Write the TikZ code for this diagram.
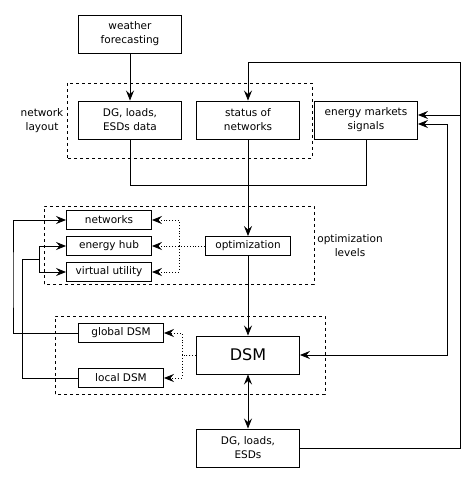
\documentclass[tikz,border=0pt]{standalone}
\usepackage{fontspec}
\setmainfont{DejaVu Sans}
\usetikzlibrary{arrows.meta}
\tikzstyle{bx}=[rectangle,draw=black,line width=0.9pt,align=center,
  minimum width=103pt,minimum height=38pt,inner sep=2pt,
  font=\fontsize{10.5}{14}\selectfont]
\tikzstyle{sbx}=[bx,minimum width=85pt,minimum height=19pt]
\tikzstyle{dsm}=[bx,font=\fontsize{16}{18}\selectfont]
\tikzstyle{grp}=[draw=black,dashed,line width=0.8pt]
\tikzstyle{lbl}=[align=center,font=\fontsize{10.5}{14}\selectfont]
\tikzstyle{none}=[]

\begin{document}
\begin{tikzpicture}[x=20pt, y=20pt, line width=0.9pt,
    >={Stealth[length=10pt,width=8pt,inset=3.5pt]}]
            \useasboundingbox (0, 0) rectangle (23.7, 24.15);
            \draw [style=grp] (3.35, 16.25) rectangle (15.6, 20);
            \draw [style=grp] (2.2, 9.95) rectangle (15.7, 13.85);
            \draw [style=grp] (2.75, 4.45) rectangle (16.25, 8.35);
            \node [style=bx] (0) at (6.5, 22.45) {weather\\forecasting};
            \node [style=bx] (1) at (6.5, 18.15) {DG, loads,\\ESDs data};
            \node [style=bx] (2) at (12.4, 18.15) {status of\\networks};
            \node [style=bx] (3) at (18.3, 18.15) {energy markets\\signals};
            \node [style=sbx] (4) at (5.45, 13.15) {networks};
            \node [style=sbx] (5) at (5.45, 11.85) {energy hub};
            \node [style=sbx] (6) at (5.45, 10.55) {virtual utility};
            \node [style=sbx] (7) at (12.4, 11.85) {optimization};
            \node [style=sbx] (8) at (6.05, 7.5) {global DSM};
            \node [style=sbx] (9) at (6.05, 5.25) {local DSM};
            \node [style=dsm] (10) at (12.4, 6.4) {DSM};
            \node [style=bx] (11) at (12.4, 1.75) {DG, loads,\\ESDs};
            \node [style=lbl] (12) at (2.1, 18.1) {network\\layout};
            \node [style=lbl] (13) at (17.5, 11.85) {optimization\\levels};
            \coordinate (14) at (23, 21.05);
            \coordinate (15) at (23, 18.4);
            \coordinate (16) at (22.35, 17.95);
            \coordinate (17) at (8.95, 11.85);
            \coordinate (18) at (9.1, 6.4);
            \coordinate (19) at (0.65, 10);
            \coordinate (20) at (1.1, 11.2);
            \coordinate (21) at (1.95, 11.2);
            \coordinate (22) at (6.5, 14.9);
            \draw [->] (0) to (1);
            \draw (1) -- (22) -| (3);
            \draw [->] (2) to (7);
            \draw [->] (7) to (10);
            \draw [<->] (10) to (11);
            \draw [->] (11) -| (14) -| (2);
            \draw [->] (15) to (15 -| 3.east);
            \draw [<->] (16 -| 3.east) -- (16) |- (10);
            \draw [dotted, ->] (7) to (5);
            \draw [dotted, ->] (17) |- (4);
            \draw [dotted, ->] (17) |- (6);
            \draw [dotted] (10) to (18);
            \draw [dotted, ->] (18) |- (8);
            \draw [dotted, ->] (18) |- (9);
            \draw [->] (8) -| (19) |- (4);
            \draw (9) -| (20) -- (21);
            \draw [->] (21) |- (5);
            \draw [->] (21) |- (6);
    \end{tikzpicture}
\end{document}
